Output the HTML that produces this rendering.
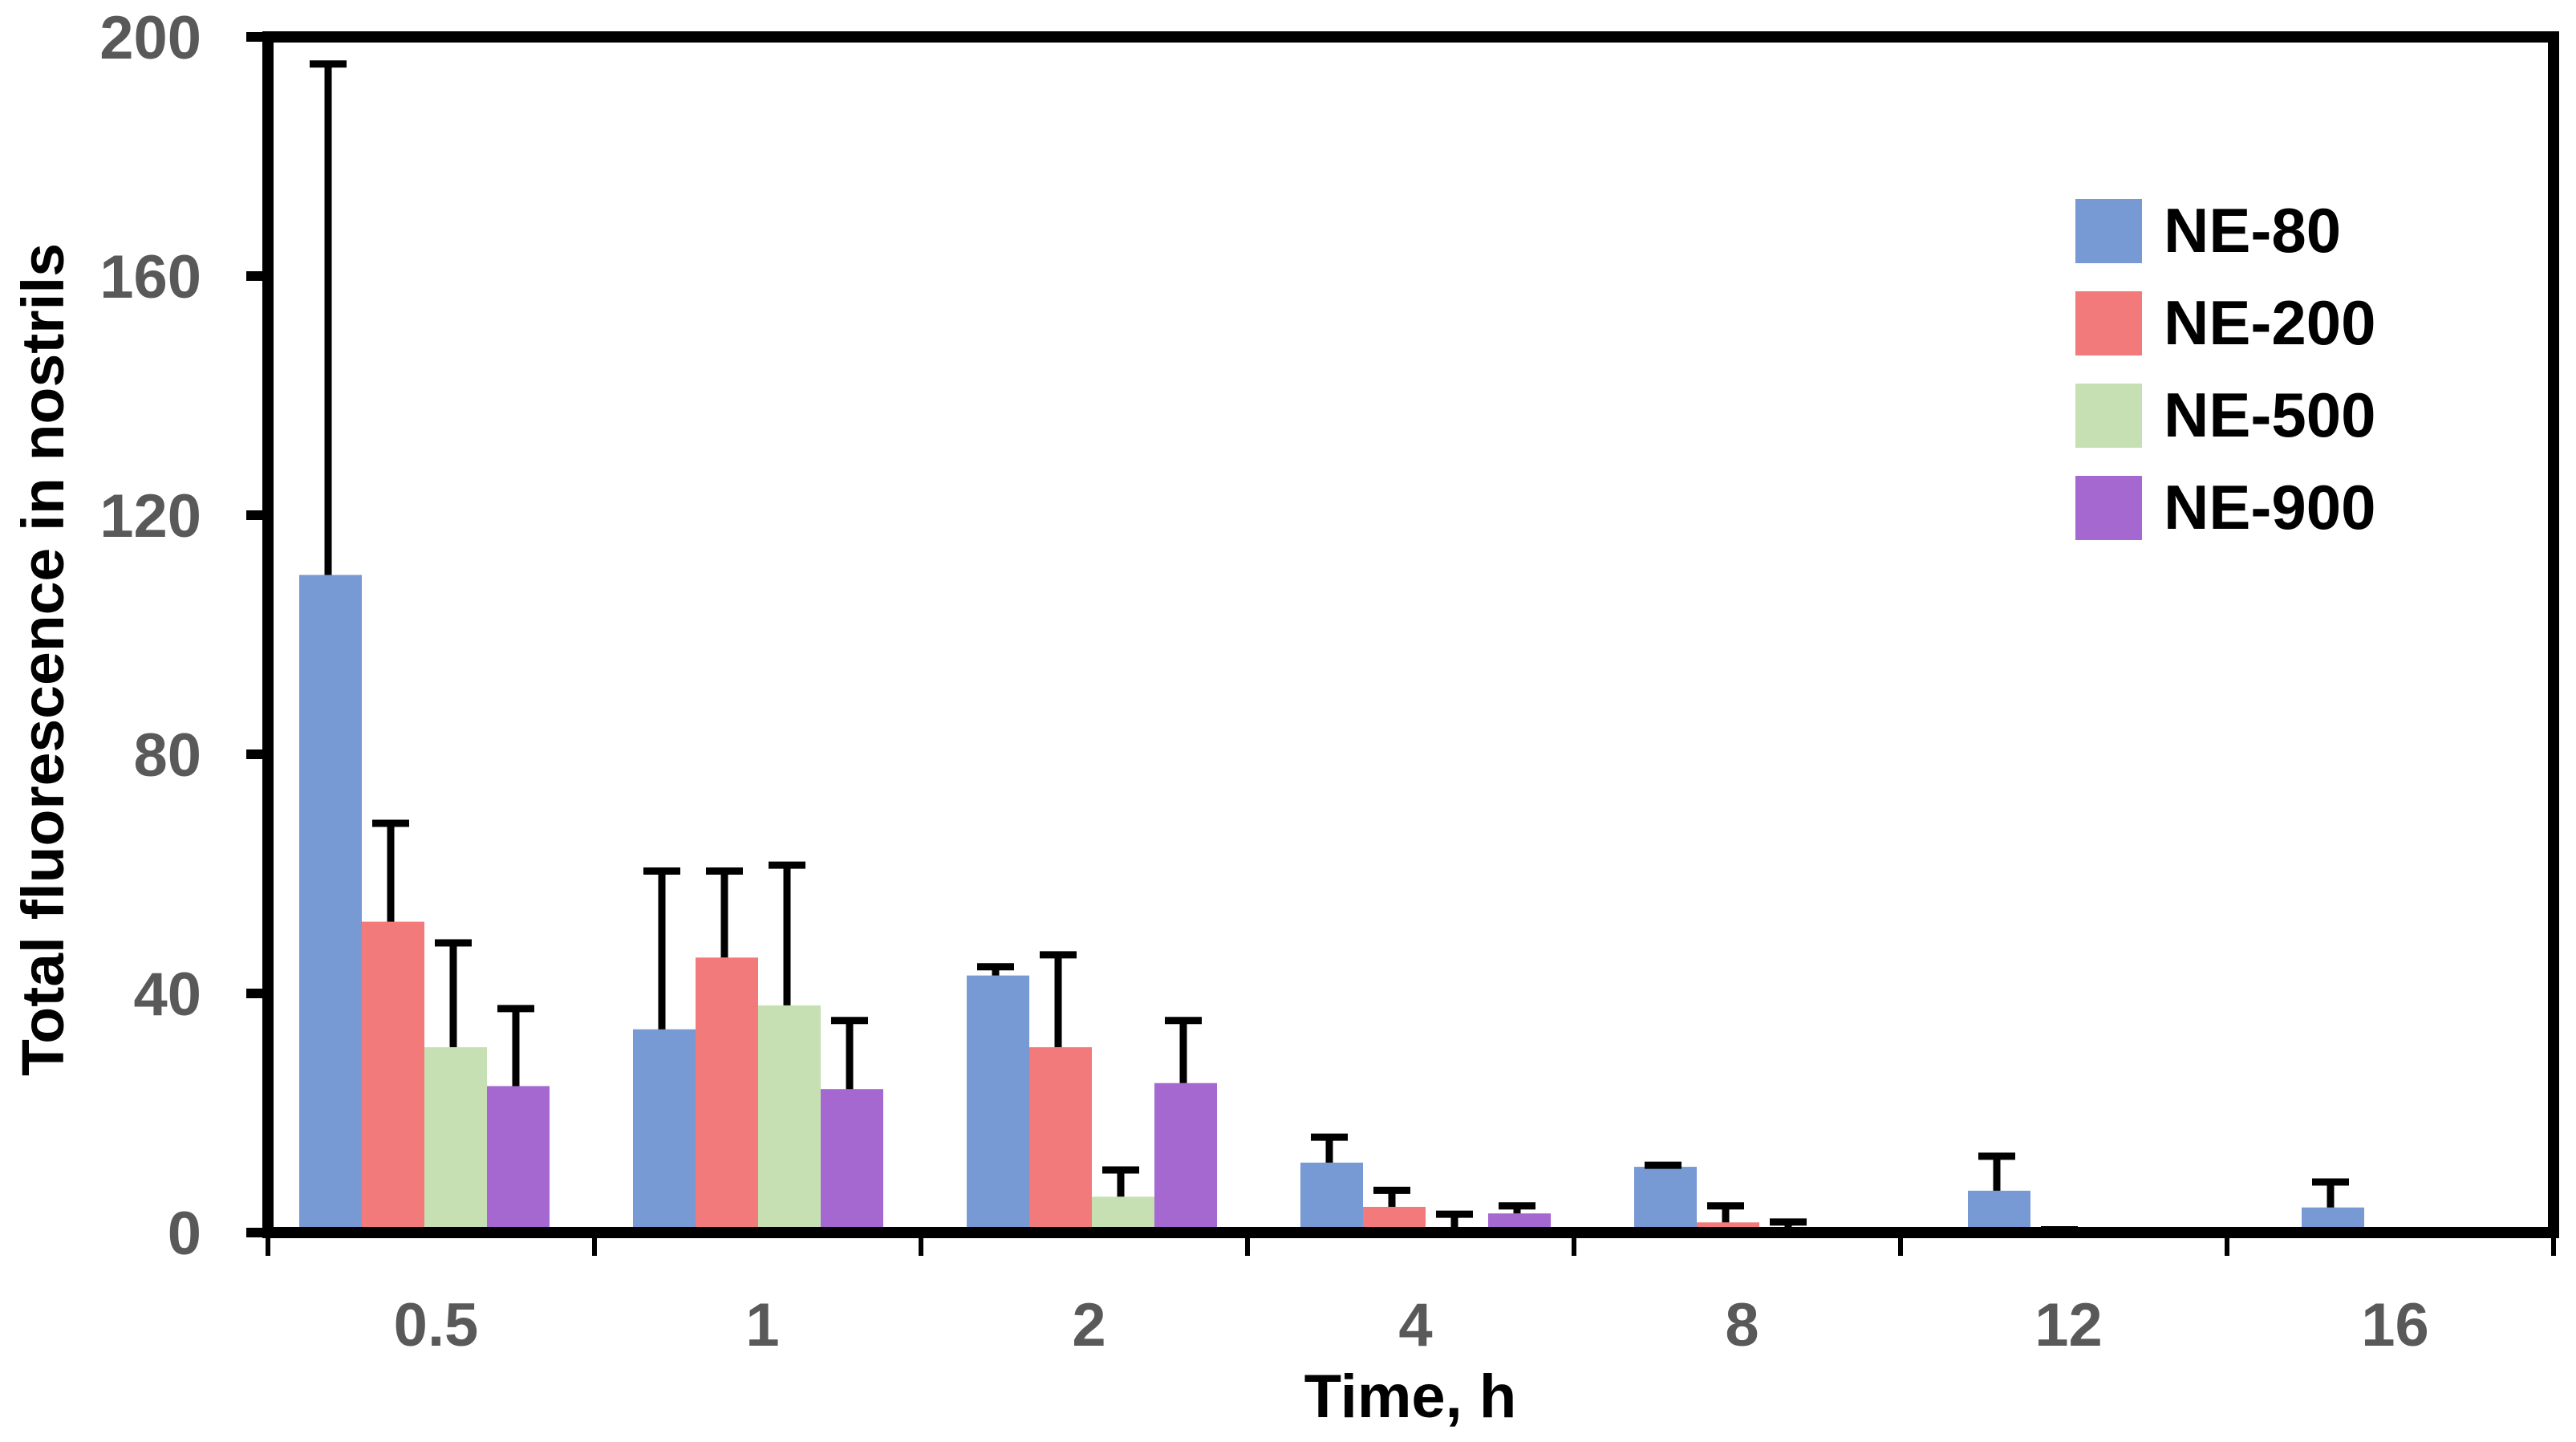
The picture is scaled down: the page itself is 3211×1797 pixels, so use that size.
<!DOCTYPE html>
<html><head><meta charset="utf-8"><style>
html,body{margin:0;padding:0;background:#fff;}
svg{display:block;font-family:"Liberation Sans",Arial,sans-serif;}
</style></head><body>
<svg id="chart" width="3211" height="1797" viewBox="0 0 3211 1797" xmlns="http://www.w3.org/2000/svg">
<g id="bars"></g>
<g id="errs"></g>
<g id="axes"></g>
<g id="legend"></g>
<text x="1758" y="1766" font-size="76" font-weight="bold" text-anchor="middle" fill="#000">Time, h</text>
<text transform="translate(79,822) rotate(-90)" font-size="74" font-weight="bold" text-anchor="middle" fill="#000" textLength="1038" lengthAdjust="spacingAndGlyphs">Total fluorescence in nostrils</text>
</svg>
<script>
const categories = ["0.5","1","2","4","8","12","16"];
const seriesNames = ["NE-80","NE-200","NE-500","NE-900"];
const seriesColors = ["#7799d4","#f27a7a","#c6e0b4","#a567d0"];
const ne80 = [110,34,43,11.7,11,7,4.2];
const ne200 = [52,46,31,4.3,1.7,0.3,0];
const ne500 = [31,38,6,0,0,0,0];
const ne900 = [24.5,24,25,3.2,0,0,0];
const ne80Err = [196,61,45,16.5,11.8,13.3,9];
const ne200Err = [69,61,47,7.6,5,1,null];
const ne500Err = [49,62,11,3.6,2.3,null,null];
const ne900Err = [38,36,36,5,null,null,null];
const yTicks = [0,40,80,120,160,200];

const NS="http://www.w3.org/2000/svg";
const X0=334, X1=3183, Y0=1536, Y1=46, YMAX=200;
const catW=(X1-X0)/categories.length, barW=78, groupOff=39, groupPitch=catW+9;
function y(v){return Y0-(v/YMAX)*(Y0-Y1);}
function xBar(c,s){return X0+groupOff+c*groupPitch+s*barW;}
function mk(tag,attrs,parent){const e=document.createElementNS(NS,tag);for(const k in attrs)e.setAttribute(k,attrs[k]);parent.appendChild(e);return e;}
const values=[ne80,ne200,ne500,ne900], errs=[ne80Err,ne200Err,ne500Err,ne900Err];
const gb=document.getElementById('bars'), ge=document.getElementById('errs'), ga=document.getElementById('axes'), gl=document.getElementById('legend');
for(let s=0;s<4;s++){for(let c=0;c<categories.length;c++){
  const v=values[s][c];
  if(v>0){const r=mk('rect',{x:xBar(c,s),y:y(v),width:barW,height:Y0-y(v),fill:seriesColors[s]},gb);
    
    }
  const e=errs[s][c];
  if(e!==null){const cx=xBar(c,s)+barW/2-3;
    const g=mk('g',{},ge);
    
    
    mk('line',{x1:cx,x2:cx,y1:y(v),y2:y(e),stroke:'#000','stroke-width':9},g);
    mk('line',{x1:cx-23,x2:cx+23,y1:y(e)+4,y2:y(e)+4,stroke:'#000','stroke-width':9},g);}
}}
const fr=mk('rect',{x:X0,y:Y1,width:X1-X0,height:Y0-Y1,fill:'none',stroke:'#000','stroke-width':14},ga);


yTicks.forEach(t=>{
  mk('line',{x1:X0-27,x2:X0,y1:y(t),y2:y(t),stroke:'#000','stroke-width':12},ga);
  const tx=mk('text',{x:251,y:y(t)+27,'font-size':76,'font-weight':'bold','text-anchor':'end',fill:'#595959'},ga);
  tx.textContent=t;
  
  
});
for(let c=0;c<=categories.length;c++){mk('line',{x1:X0+c*catW,x2:X0+c*catW,y1:Y0,y2:1565,stroke:'#000','stroke-width':6},ga);}
categories.forEach((cat,c)=>{
  const tx=mk('text',{x:X0+c*catW+catW/2+6,y:1677,'font-size':76,'font-weight':'bold','text-anchor':'middle',fill:'#595959'},ga);
  tx.textContent=cat;
  
  
});
seriesNames.forEach((n,i)=>{
  const yy=248+i*115;
  const g=mk('g',{},gl);
  
  
  mk('rect',{x:2587,y:yy,width:83,height:80,fill:seriesColors[i]},g);
  const t=mk('text',{x:2697,y:yy+66,'font-size':78,'font-weight':'bold',fill:'#000'},g);
  t.textContent=n;
});
</script>
</body></html>
